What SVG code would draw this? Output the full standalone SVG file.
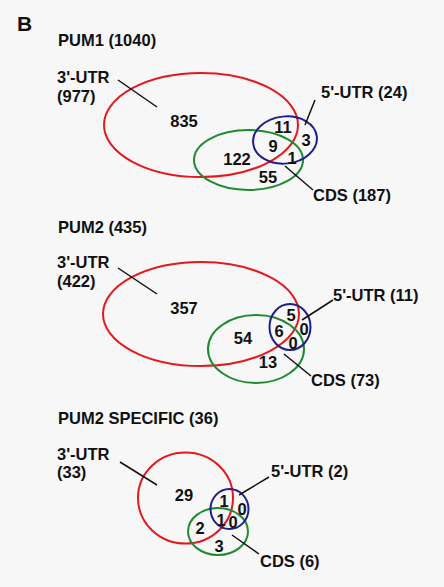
<svg xmlns="http://www.w3.org/2000/svg" width="444" height="587" viewBox="0 0 444 587">
  <style>
    text { font-family: "Liberation Sans", Arial, sans-serif; font-weight: bold; font-size: 16.5px; fill: #111; }
    .num { text-anchor: middle; }
    .set { fill: none; stroke-width: 2; }
    .utr3 { stroke: #e3191e; }
    .cds { stroke: #1f8a32; }
    .utr5 { stroke: #1f1f8c; }
    .lead { stroke: #111; stroke-width: 1.5; fill: none; }
  </style>
  <rect x="0" y="0" width="444" height="587" fill="#f7f7f7"/>
  <text x="17" y="31" style="font-size:21px">B</text>

  <!-- PUM1 -->
  <g id="pum1">
    <text x="58" y="46">PUM1 (1040)</text>
    <g id="pum1-utr3">
      <ellipse class="set utr3" cx="201" cy="125" rx="97" ry="52"/>
      <text x="57" y="83">3'-UTR</text>
      <text x="57" y="102">(977)</text>
    </g>
    <g id="pum1-cds">
      <ellipse class="set cds" cx="248.5" cy="160" rx="54.5" ry="30"/>
      <text x="313" y="201">CDS (187)</text>
    </g>
    <g id="pum1-utr5">
      <ellipse class="set utr5" cx="285" cy="140" rx="32" ry="23.5" transform="rotate(-6 285 140)"/>
      <text x="321" y="98">5'-UTR (24)</text>
    </g>
    <text class="num" x="184" y="127">835</text>
    <text class="num" x="283" y="133">11</text>
    <text class="num" x="306" y="146">3</text>
    <text class="num" x="273" y="152">9</text>
    <text class="num" x="292" y="164">1</text>
    <text class="num" x="237" y="165">122</text>
    <text class="num" x="268" y="183">55</text>
  </g>

  <!-- PUM2 -->
  <g id="pum2">
    <text x="58" y="233">PUM2 (435)</text>
    <g id="pum2-utr3">
      <ellipse class="set utr3" cx="201" cy="314" rx="98" ry="52"/>
      <text x="57" y="268">3'-UTR</text>
      <text x="57" y="287">(422)</text>
    </g>
    <g id="pum2-cds">
      <ellipse class="set cds" cx="256" cy="349" rx="48" ry="34"/>
      <text x="311" y="386">CDS (73)</text>
    </g>
    <g id="pum2-utr5">
      <ellipse class="set utr5" cx="290" cy="327" rx="20.5" ry="23"/>
      <text x="333" y="301">5'-UTR (11)</text>
    </g>
    <text class="num" x="184" y="314">357</text>
    <text class="num" x="291" y="321">5</text>
    <text class="num" x="279" y="337">6</text>
    <text class="num" x="304" y="335">0</text>
    <text class="num" x="293" y="349">0</text>
    <text class="num" x="243" y="344">54</text>
    <text class="num" x="268" y="368">13</text>
  </g>

  <!-- PUM2 specific -->
  <g id="pum2-specific">
    <text x="58" y="424">PUM2 SPECIFIC (36)</text>
    <g id="spec-utr3">
      <ellipse class="set utr3" cx="185.5" cy="498" rx="47.5" ry="45.5"/>
      <text x="57" y="460">3'-UTR</text>
      <text x="57" y="478">(33)</text>
    </g>
    <g id="spec-cds">
      <ellipse class="set cds" cx="218" cy="531.5" rx="30" ry="23.5"/>
      <text x="260" y="567">CDS (6)</text>
    </g>
    <g id="spec-utr5">
      <ellipse class="set utr5" cx="229.5" cy="509" rx="19" ry="20"/>
      <text x="271" y="477">5'-UTR (2)</text>
    </g>
    <text class="num" x="184" y="501">29</text>
    <text class="num" x="224" y="507">1</text>
    <text class="num" x="242" y="515">0</text>
    <text class="num" x="221" y="526">1</text>
    <text class="num" x="233" y="528">0</text>
    <text class="num" x="200" y="534">2</text>
    <text class="num" x="219" y="552">3</text>
  </g>

  <!-- leader lines from labels to sets -->
  <g id="connectors">
    <line class="lead" x1="118" y1="80" x2="157" y2="107"/>
    <line class="lead" x1="315" y1="100" x2="305" y2="125"/>
    <line class="lead" x1="285" y1="166" x2="313" y2="190"/>
    <line class="lead" x1="118" y1="268" x2="157" y2="294"/>
    <line class="lead" x1="333" y1="300" x2="302" y2="320"/>
    <line class="lead" x1="284" y1="354" x2="311" y2="376"/>
    <line class="lead" x1="120" y1="462" x2="157" y2="485"/>
    <line class="lead" x1="269" y1="477" x2="239" y2="495"/>
    <line class="lead" x1="232" y1="535" x2="259" y2="554"/>
  </g>
</svg>
